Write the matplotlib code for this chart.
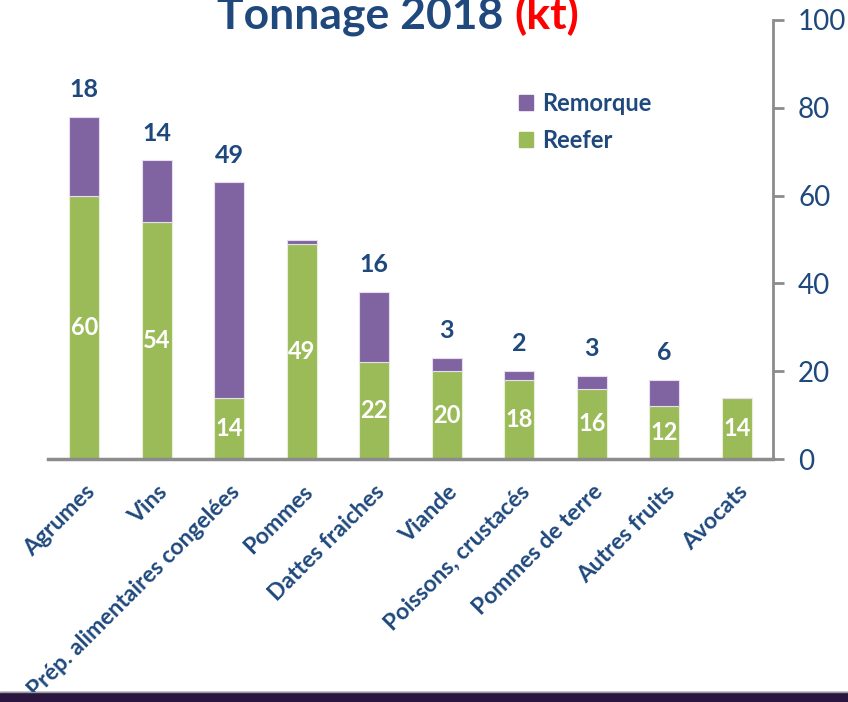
import matplotlib
matplotlib.use("Agg")
import matplotlib.pyplot as plt
from matplotlib.patches import Rectangle
from matplotlib.lines import Line2D

categories = ["Agrumes", "Vins", "Prép. alimentaires congelées", "Pommes",
              "Dattes fraiches", "Viande", "Poissons, crustacés",
              "Pommes de terre", "Autres fruits", "Avocats"]
reefer = [60, 54, 14, 49, 22, 20, 18, 16, 12, 14]
remorque = [18, 14, 49, 0.8, 16, 3, 2, 3, 6, 0]
yticks = [0, 20, 40, 60, 80, 100]

NAVY = "#1F497D"
PURPLE = "#8064A2"
GREEN = "#9BBB59"
GRAY = "#8C8C8C"

plt.rcParams['font.family'] = ['Lato', 'DejaVu Sans']

fig = plt.figure(figsize=(8.48, 7.02), dpi=100)
ax = fig.add_axes([48/848, 1-459/702, (773-48)/848, (459-20)/702])

x = list(range(len(categories)))
w = 0.42
ax.bar(x, reefer, w, color=GREEN, edgecolor="#e8f0d8", linewidth=0.8, label="Reefer", zorder=2)
ax.bar(x, remorque, w, bottom=reefer, color=PURPLE, edgecolor="#e6def0", linewidth=0.8,
       label="Remorque", zorder=2)

for i, (g, p) in enumerate(zip(reefer, remorque)):
    ax.text(i, g/2, f"{g:g}", ha="center", va="center", color="white",
            fontsize=17, fontweight="bold", zorder=3)
    if p >= 1:
        ax.text(i, g + p + 6.2, f"{p:g}", ha="center", va="center", color=NAVY,
                fontsize=18, fontweight="bold", zorder=3)

ax.set_xlim(-0.5, len(categories) - 0.5)
ax.set_ylim(0, 100)
ax.yaxis.tick_right()
ax.set_yticks(yticks)
ax.set_yticklabels([str(t) for t in yticks], fontsize=20, color=NAVY)
ax.tick_params(axis="y", direction="out", length=8, width=2, color=GRAY, pad=10)
ax.set_xticks(x)
ax.set_xticklabels(categories, rotation=45, ha="right", rotation_mode="anchor",
                   fontsize=16.5, fontweight="bold", color=NAVY)
ax.tick_params(axis="x", length=0, pad=16)

for s in ["top", "left"]:
    ax.spines[s].set_visible(False)
ax.spines["right"].set_color(GRAY)
ax.spines["right"].set_linewidth(2)
ax.spines["bottom"].set_color(GRAY)
ax.spines["bottom"].set_linewidth(2.5)

handles = [Rectangle((0, 0), 1, 1, color=PURPLE), Rectangle((0, 0), 1, 1, color=GREEN)]
leg = ax.legend(handles, ["Remorque", "Reefer"], loc="upper left",
                bbox_to_anchor=(0.62, 0.885), frameon=False,
                prop={"family": "Lato", "weight": "bold", "size": 17},
                handlelength=0.6, handleheight=0.6, handletextpad=0.4,
                labelspacing=0.6, labelcolor=NAVY)

# Title in two colours
title_left = "Tonnage 2018 "
title_right = "(kt)"
renderer = fig.canvas.get_renderer()
tl = fig.text(0, 0, title_left, fontsize=32, fontweight="bold", color=NAVY, va="baseline")
tr = fig.text(0, 0, title_right, fontsize=32, fontweight="bold", color="#FF0000", va="baseline")
wl = tl.get_window_extent(renderer).width
wr = tr.get_window_extent(renderer).width
cx = 398
x0 = cx - (wl + wr) / 2
ybase = 702 - 29
tl.set_position((x0 / 848, ybase / 702))
tr.set_position(((x0 + wl) / 848, ybase / 702))

# bottom band
fig.patches.append(Rectangle((0, 0), 1, 10/702, transform=fig.transFigure,
                             color="#2B1640", zorder=0))
fig.lines.append(Line2D([0, 1], [10.5/702, 10.5/702], transform=fig.transFigure,
                        color="#9A9A9A", linewidth=1))

fig.savefig("out.png", dpi=100)
